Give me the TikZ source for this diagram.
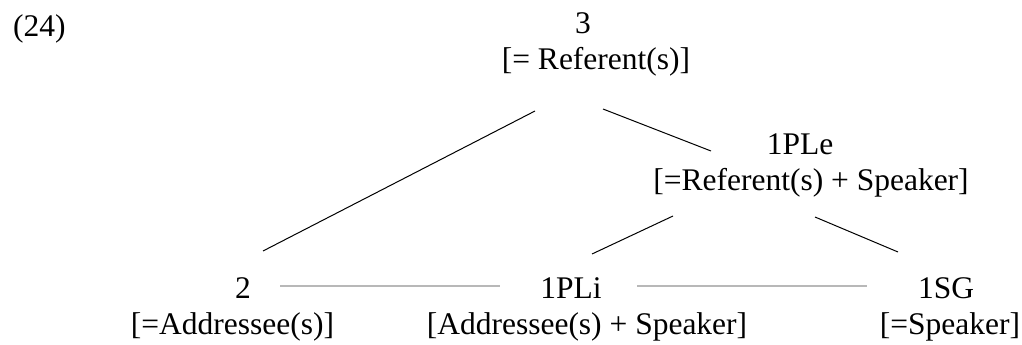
\documentclass[tikz,border=0pt]{standalone}
\usepackage{fontspec}
\setmainfont{Liberation Serif}
\begin{document}
\begin{tikzpicture}[x=1pt,y=-1pt,
  lbl/.style={anchor=base,inner sep=0pt,font=\fontsize{31.5}{36}\selectfont},
  branch/.style={line width=1pt,black},
  link/.style={line width=1.2pt,black!28}]
\useasboundingbox (0,0) rectangle (1022,345);

% example number
\node[lbl,anchor=base west] (ex) at (13,37) {(24)};

% top node
\node[lbl] (n3) at (583,34) {3};
\node[lbl] (n3g) at (596,70) {[= Referent(s)]};

% 1PLe
\node[lbl] (ne) at (800,154) {1PLe};
\node[lbl] (neg) at (811,190) {[=Referent(s) + Speaker]};

% bottom row
\node[lbl] (n2) at (243,298) {2};
\node[lbl] (n2g) at (232.5,334) {[=Addressee(s)]};
\node[lbl] (ni) at (571,298) {1PLi};
\node[lbl] (nig) at (587,334) {[Addressee(s) + Speaker]};
\node[lbl] (ns) at (946,298) {1SG};
\node[lbl] (nsg) at (950,334) {[=Speaker]};

% branch end points
\coordinate (t3l) at (535,111);
\coordinate (t3r) at (603,109);
\coordinate (b2) at (263,251);
\coordinate (be) at (711,151);
\coordinate (tel) at (673,216);
\coordinate (ter) at (815,217);
\coordinate (bi) at (592,254);
\coordinate (bs) at (898,252);

\draw[branch] (t3l) -- (b2);
\draw[branch] (t3r) -- (be);
\draw[branch] (tel) -- (bi);
\draw[branch] (ter) -- (bs);

% links along the bottom row
\coordinate (l1a) at (280,286);
\coordinate (l1b) at (500,286);
\coordinate (l2a) at (637,286);
\coordinate (l2b) at (867,286);
\draw[link] (l1a) -- (l1b);
\draw[link] (l2a) -- (l2b);
\end{tikzpicture}
\end{document}
